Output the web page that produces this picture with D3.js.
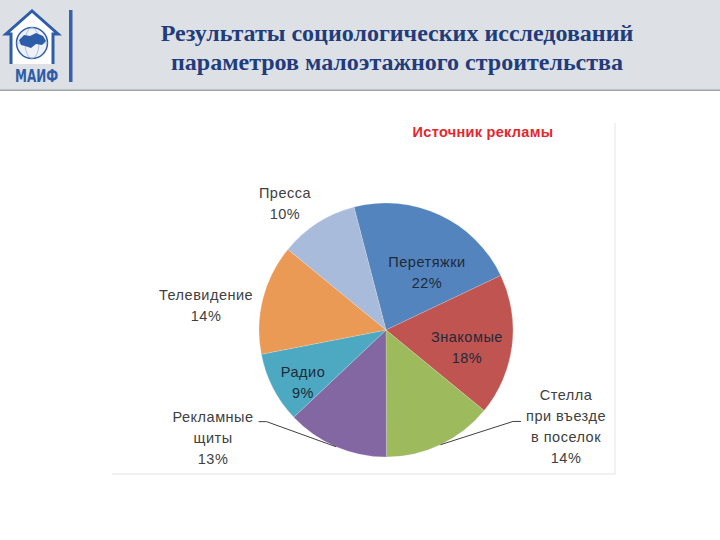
<!DOCTYPE html>
<html>
<head>
<meta charset="utf-8">
<script src="https://cdn.jsdelivr.net/npm/d3@7"></script>
<style>
  body { margin: 0; background: #fff; }
  svg { display: block; }
</style>
</head>
<body>
<svg id="slide" width="720" height="540"></svg>
<script>
// data
var headerLines = ["Результаты социологических исследований", "параметров малоэтажного строительства"];
var chartTitle = "Источник рекламы";
var categories = ["Перетяжки", "Знакомые", "Стелла\nпри въезде\nв поселок", "Рекламные\nщиты", "Радио", "Телевидение", "Пресса"];
var shares = [22, 18, 14, 13, 9, 14, 10];
var sliceColors = ["#5384BD", "#BF5451", "#9DBA5D", "#8367A2", "#4DA9C2", "#EA9A54", "#A8BBDA"];

// label placement: [angle deg clockwise from north, distance in radii, has leader line]
var labelPlace = [[35.5, 0.556, 0], [102.5, 0.653, 0], [118.3, 1.61, 1], [238.1, 1.604, 1],
                  [237.7, 0.773, 0], [277.75, 1.43, 0], [321.4, 1.275, 0]];
var insideLabel = [1, 1, 0, 0, 1, 0, 0];

var svg = d3.select("#slide");

// header band
svg.append("rect").attr("x", 0).attr("y", 0).attr("width", 720).attr("height", 90).attr("fill", "#DDE0E4");
svg.append("rect").attr("x", 0).attr("y", 89.5).attr("width", 720).attr("height", 1.5).attr("fill", "#A3A3A3");

svg.selectAll("text.head")
  .data(headerLines)
  .enter()
  .append("text")
  .attr("class", "head")
  .attr("x", 397)
  .attr("y", function(d, i){ return 41 + i * 29; })
  .attr("text-anchor", "middle")
  .attr("font-family", "Liberation Serif")
  .attr("font-weight", "bold")
  .attr("font-size", 24)
  .attr("fill", "#1F3C7C")
  .text(function(d){ return d; });

// logo
var logo = svg.append("g");
logo.append("path")
  .attr("d", "M11,64 L11,34 L6,34 L32,11 L58,34 L53,34 L53,64")
  .attr("fill", "#fff")
  .attr("stroke", "#2D5DA8")
  .attr("stroke-width", 3)
  .attr("stroke-linejoin", "miter");
logo.append("circle").attr("cx", 32).attr("cy", 43).attr("r", 15.5)
  .attr("fill", "#EEF2F8").attr("stroke", "#2D5DA8").attr("stroke-width", 1.5);
logo.append("ellipse").attr("cx", 32).attr("cy", 43).attr("rx", 7).attr("ry", 15.5)
  .attr("fill", "none").attr("stroke", "#9DB1D4").attr("stroke-width", 0.8);
logo.append("line").attr("x1", 16.5).attr("x2", 47.5).attr("y1", 43).attr("y2", 43)
  .attr("stroke", "#9DB1D4").attr("stroke-width", 0.8);
logo.append("path")
  .attr("d", "M19,40 L24,35 L30,36 L36,33 L43,36 L46,41 L42,45 L36,44 L31,48 L25,46 L21,45 Z")
  .attr("fill", "#2D5DA8");
logo.append("text")
  .attr("x", 15).attr("y", 82)
  .attr("textLength", 43).attr("lengthAdjust", "spacingAndGlyphs")
  .attr("font-family", "DejaVu Sans Condensed").attr("font-weight", "bold")
  .attr("font-size", 18).attr("fill", "#2D5DA8")
  .text("МАИФ");
logo.append("rect").attr("x", 69).attr("y", 10).attr("width", 3.5).attr("height", 72).attr("fill", "#3561AE");

// chart frame (only the faint right and bottom edges show)
svg.append("path")
  .attr("d", "M615,123 L615,474 L112,474")
  .attr("fill", "none").attr("stroke", "#E4E4E4").attr("stroke-width", 1);

svg.append("text")
  .attr("x", 483).attr("y", 137)
  .attr("text-anchor", "middle")
  .attr("font-family", "Liberation Sans").attr("font-weight", "bold")
  .attr("font-size", 14.5).attr("fill", "#E5262D")
  .attr("letter-spacing", 0.3)
  .text(chartTitle);

// pie
var cx = 386, cy = 330, radius = 127;
var startA = -14.6 * Math.PI / 180;

var pie = d3.pie().sort(null).value(function(d){ return d; })
  .startAngle(startA).endAngle(startA + 2 * Math.PI);
var arc = d3.arc().innerRadius(0).outerRadius(radius);
var edgeArc = d3.arc().innerRadius(radius).outerRadius(radius);

var arcs = pie(shares);
var g = svg.append("g").attr("transform", "translate(" + cx + "," + cy + ")");

g.selectAll("path.slice")
  .data(arcs)
  .enter()
  .append("path")
  .attr("class", "slice")
  .attr("d", arc)
  .attr("fill", function(d, i){ return sliceColors[i]; })
  .attr("stroke", "rgba(255,255,255,0.25)")
  .attr("stroke-width", 0.7);

// labels
var lineH = 21;
g.selectAll("g.lab")
  .data(arcs)
  .enter()
  .append("g")
  .attr("class", "lab")
  .each(function(d, i){
    var p = labelPlace[i];
    var a = p[0] * Math.PI / 180;
    var lx = Math.sin(a) * p[1] * radius;
    var ly = -Math.cos(a) * p[1] * radius;
    var lines = categories[i].split("\n").concat([shares[i] + "%"]);
    var n = lines.length;
    var grp = d3.select(this);
    var widest = 0, widestY = 0;
    lines.forEach(function(t, k){
      var y = ly + (k - (n - 1) / 2) * lineH;
      var tx = grp.append("text")
        .attr("x", lx).attr("y", y)
        .attr("text-anchor", "middle")
        .attr("dominant-baseline", "central")
        .attr("font-family", "Liberation Sans")
        .attr("font-size", 14.5)
        .attr("letter-spacing", 0.5)
        .attr("fill", insideLabel[i] ? "#1E2A38" : "#404040")
        .text(t);
      var w = tx.node().getComputedTextLength();
      if (w > widest) { widest = w; widestY = y; }
    });
    if (p[2]) {
      var side = lx < 0 ? 1 : -1;
      var x0 = lx + side * (widest / 2 + 5);
      var x1 = x0 + side * 8;
      var y0 = widestY + 5;
      var e = edgeArc.centroid(d);
      grp.append("path")
        .attr("d", d3.line()([[x0, y0], [x1, y0], e]))
        .attr("fill", "none")
        .attr("stroke", "#404040")
        .attr("stroke-width", 1);
    }
  });
</script>
</body>
</html>
